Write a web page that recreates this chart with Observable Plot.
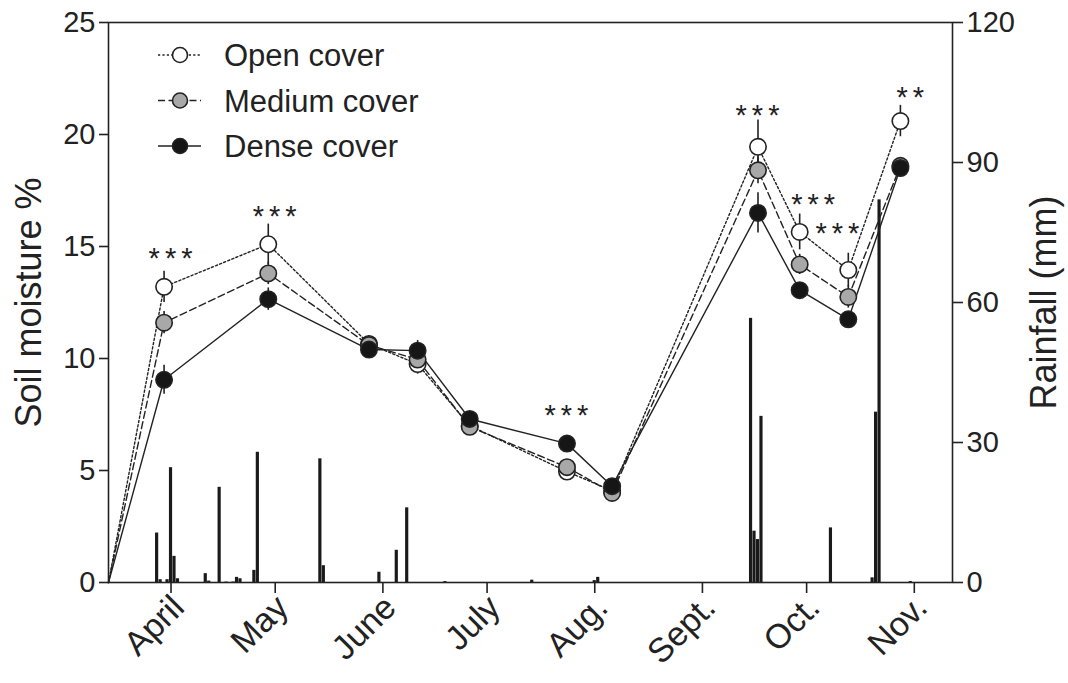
<!DOCTYPE html>
<html><head><meta charset="utf-8">
<script src="https://cdn.jsdelivr.net/npm/d3@7"></script>
<script src="https://cdn.jsdelivr.net/npm/@observablehq/plot@0.6"></script>
<style>
body{margin:0;background:#fff;}
#chart{width:1068px;height:683px;}
</style></head><body><div id="chart"></div>
<script>
// ---- data ----
const sampleDates = ["2010-03-14","2010-03-30","2010-04-29","2010-05-28","2010-06-11","2010-06-26","2010-07-24","2010-08-06","2010-09-17","2010-09-29","2010-10-13","2010-10-28"];
const openCover   = [0, 13.2, 15.1, 10.65, 9.75, 7.0, 4.95, 4.1, 19.45, 15.65, 13.95, 20.6];
const mediumCover = [0, 11.6, 13.8, 10.6, 9.95, 6.95, 5.15, 4.0, 18.4, 14.2, 12.75, 18.6];
const denseCover  = [0, 9.05, 12.65, 10.4, 10.35, 7.3, 6.2, 4.3, 16.5, 13.05, 11.75, 18.5];
const openSE   = [0, 0.7, 0.9, 0.35, 0.45, 0.3, 0.3, 0.2, 1.2, 0.8, 0.75, 0.7];
const mediumSE = [0, 0.5, 0.5, 0.3, 0.35, 0.25, 0.3, 0.2, 0.6, 0.45, 0.5, 0.35];
const denseSE  = [0, 0.65, 0.5, 0.35, 0.45, 0.3, 0.2, 0.2, 0.9, 0.3, 0.35, 0.4];
const seriesNames = ["Open cover", "Medium cover", "Dense cover"];

const rainDates = ["2010-03-28","2010-03-29","2010-03-31","2010-04-01","2010-04-02","2010-04-03","2010-04-11","2010-04-12","2010-04-15","2010-04-17","2010-04-19","2010-04-20","2010-04-21","2010-04-25","2010-04-26","2010-05-14","2010-05-15","2010-05-31","2010-06-05","2010-06-08","2010-06-19","2010-07-14","2010-08-01","2010-08-02","2010-09-15","2010-09-16","2010-09-17","2010-09-18","2010-10-08","2010-10-20","2010-10-21","2010-10-22","2010-10-31"];
const rainMM    = [10.6, 0.6, 0.6, 24.6, 5.6, 0.8, 1.9, 0.3, 20.4, 0.1, 0.1, 1.1, 0.8, 2.6, 27.9, 26.5, 3.6, 2.2, 6.9, 16.0, 0.2, 0.5, 0.4, 1.1, 56.6, 11.0, 9.2, 35.6, 11.7, 1.0, 36.5, 82.0, 0.2];

const starDates  = ["2010-04-01","2010-05-01","2010-07-24","2010-09-17","2010-10-03","2010-10-10","2010-10-31"];
const starValues = [14.75, 16.65, 7.75, 21.15, 17.2, 15.9, 21.95];
const starLabels = ["***","***","***","***","***","***","**"];

const monthTicks  = ["2010-04-01","2010-05-01","2010-06-01","2010-07-01","2010-08-01","2010-09-01","2010-10-01","2010-11-01"];
const monthLabels = ["April","May","June","July","Aug.","Sept.","Oct.","Nov."];
const moistureTicks = [0, 5, 10, 15, 20, 25];
const rainTicks = [0, 30, 60, 90, 120];
const xDomain = ["2010-03-14", "2010-11-12"];

// ---- build ----
const parse = s => new Date(s + "T00:00:00Z");
const k = 25 / 120; // rainfall mm -> moisture axis units
const valuesBy = {"Open cover": [openCover, openSE], "Medium cover": [mediumCover, mediumSE], "Dense cover": [denseCover, denseSE]};
const styleBy = {
  "Open cover":   {fill: "#ffffff", dash: "2.2,2.2"},
  "Medium cover": {fill: "#a8a8a8", dash: "7,3.5"},
  "Dense cover":  {fill: "#161616", dash: null}
};
const rows = seriesNames.flatMap(name => sampleDates.map((d, i) => ({
  series: name, date: parse(d), value: valuesBy[name][0][i], se: valuesBy[name][1][i]
})));
const rain = rainDates.map((d, i) => ({date: parse(d), mm: rainMM[i]}));
const stars = starDates.map((d, i) => ({date: parse(d), value: starValues[i], label: starLabels[i]}));
const months = monthTicks.map((d, i) => ({date: parse(d), label: monthLabels[i]}));
const half = 12 * 3600e3;
const ink = "#222";
const font = "'Liberation Sans', Arial, sans-serif";

const marks = [
  Plot.rect(rain, {x1: d => new Date(+d.date - half), x2: d => new Date(+d.date + half), y1: 0, y2: d => d.mm * k, fill: "#1a1a1a", insetLeft: 0.15, insetRight: 0.15}),
  Plot.frame({stroke: ink, strokeWidth: 1.6}),
  Plot.axisY({anchor: "left", ticks: moistureTicks, tickSize: 9, tickPadding: 4, fontSize: 29, label: null, stroke: ink, strokeWidth: 1.6}),
  Plot.axisY({anchor: "right", ticks: rainTicks.map(v => v * k), tickFormat: v => String(Math.round(v / k)), tickSize: 10, tickPadding: 4, fontSize: 29, label: null, stroke: ink, strokeWidth: 1.6}),
  Plot.axisX({ticks: months.map(d => d.date), tickSize: 11, fill: "none", label: null, stroke: ink, strokeWidth: 1.6}),
  Plot.text(months, {x: "date", text: "label", frameAnchor: "bottom", rotate: -45, textAnchor: "end", fontSize: 34, dx: 15, dy: 27, fill: ink}),
  Plot.text(["Soil moisture %"], {frameAnchor: "left", textAnchor: "middle", rotate: -90, dx: -79, fontSize: 36, fill: ink}),
  Plot.text(["Rainfall (mm)"], {frameAnchor: "right", textAnchor: "middle", rotate: -90, dx: 92, fontSize: 36, fill: ink}),
  Plot.ruleX(rows.filter(d => d.se > 0), {x: "date", y1: d => d.value - d.se, y2: d => d.value + d.se, stroke: ink, strokeWidth: 1.6})
];
for (const name of seriesNames) {
  const sub = rows.filter(d => d.series === name);
  marks.push(Plot.line(sub, {x: "date", y: "value", stroke: ink, strokeWidth: 1.4, strokeDasharray: styleBy[name].dash}));
}
for (const name of seriesNames) {
  const sub = rows.filter(d => d.series === name && d.value > 0);
  marks.push(Plot.dot(sub, {x: "date", y: "value", r: 8.2, fill: styleBy[name].fill, stroke: ink, strokeWidth: 1.6}));
}
marks.push(Plot.text(stars, {x: "date", y: "value", text: "label", fontSize: 29, dy: 7, dx: 2, fill: ink}));

const chart = Plot.plot({
  width: 1068, height: 683,
  marginLeft: 108, marginRight: 116, marginTop: 22, marginBottom: 101,
  style: {fontFamily: font, color: ink, background: "#fff"},
  x: {type: "utc", domain: xDomain.map(parse)},
  y: {domain: [0, 25]},
  marks
});
document.getElementById("chart").appendChild(chart);

// asterisk spacing
d3.select(chart).selectAll("text").filter(function() { return /^\*+$/.test(this.textContent); }).attr("letter-spacing", "5px");

// legend (inside plot area, top-left)
const lg = d3.select(chart).append("g").attr("font-family", font).attr("font-size", 31).attr("fill", ink).attr("text-anchor", "start");
seriesNames.forEach((name, i) => {
  const cy = 55 + i * 45.5;
  const g = lg.append("g").attr("transform", `translate(0,${cy})`);
  g.append("line").attr("x1", 158).attr("x2", 201).attr("y1", 0).attr("y2", 0).attr("stroke", ink).attr("stroke-width", 1.4).attr("stroke-dasharray", styleBy[name].dash);
  g.append("circle").attr("cx", 180).attr("cy", 0).attr("r", 7.5).attr("fill", styleBy[name].fill).attr("stroke", ink).attr("stroke-width", 1.6);
  g.append("text").attr("x", 224).attr("y", 11).attr("text-anchor", "start").text(name);
});
</script></body></html>
